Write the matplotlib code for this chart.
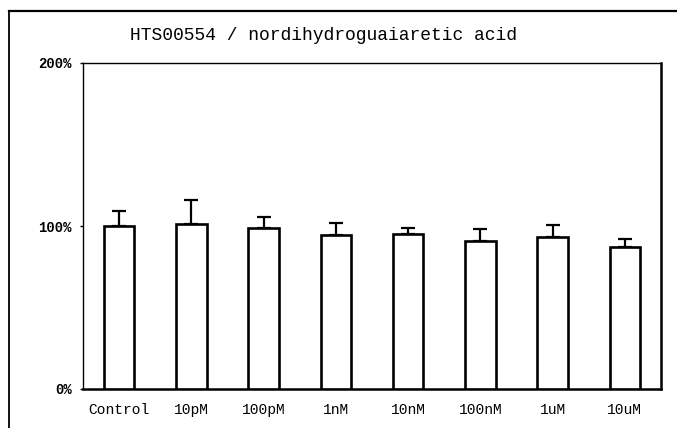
import numpy as np
import matplotlib.pyplot as plt
from matplotlib.lines import Line2D

# values (percent of control)
doses = ["Control", "10pM", "100pM", "1nM", "10nM", "100nM", "1uM", "10uM"]
means = [100, 101, 98.6, 94.5, 95, 90.8, 93.4, 87.3]
sd_up = [9, 15, 7, 7.5, 4, 7.2, 7.2, 4.7]
yticks = [0, 100, 200]
ytick_labels = ["0%", "100%", "200%"]
title = "HTS00554 / nordihydroguaiaretic acid"

mono = ["Liberation Mono", "DejaVu Sans Mono"]

fig = plt.figure(figsize=(6.77, 4.28), dpi=100)
ax = fig.add_axes([83 / 677, 1 - 389 / 428, (661 - 83) / 677, (389 - 63) / 428])

x = np.arange(len(doses))
ax.bar(x, means, width=0.42, color="white", edgecolor="black", linewidth=1.9, zorder=3)
ax.errorbar(x, means, yerr=[np.zeros(len(sd_up)), sd_up], fmt="none",
            ecolor="black", elinewidth=1.6, capsize=5, capthick=1.6, zorder=2)

ax.set_xlim(-0.5, len(doses) - 0.5)
ax.set_ylim(0, 200)
ax.set_yticks(yticks)
ax.set_yticklabels(ytick_labels, fontfamily=mono, fontsize=10, fontweight="bold")
ax.set_xticks(x)
ax.set_xticklabels(doses, fontfamily=mono, fontsize=10.5)
ax.tick_params(axis="x", length=0, pad=10)
ax.tick_params(axis="y", length=2, width=1, pad=6)

for side in ["left", "top"]:
    ax.spines[side].set_linewidth(1.0)
ax.spines["right"].set_linewidth(1.8)
ax.spines["bottom"].set_linewidth(1.8)

fig.text(324 / 677, 1 - 35 / 428, title, ha="center", va="center",
         fontfamily=mono, fontsize=13)

# outer frame of the scanned page
fig.add_artist(Line2D([9 / 677, 1.0], [1 - 11 / 428, 1 - 11 / 428],
                      transform=fig.transFigure, color="black", linewidth=1.6))
fig.add_artist(Line2D([9 / 677, 9 / 677], [0, 1 - 11 / 428],
                      transform=fig.transFigure, color="black", linewidth=1.3))

fig.savefig("out.png", dpi=100)
